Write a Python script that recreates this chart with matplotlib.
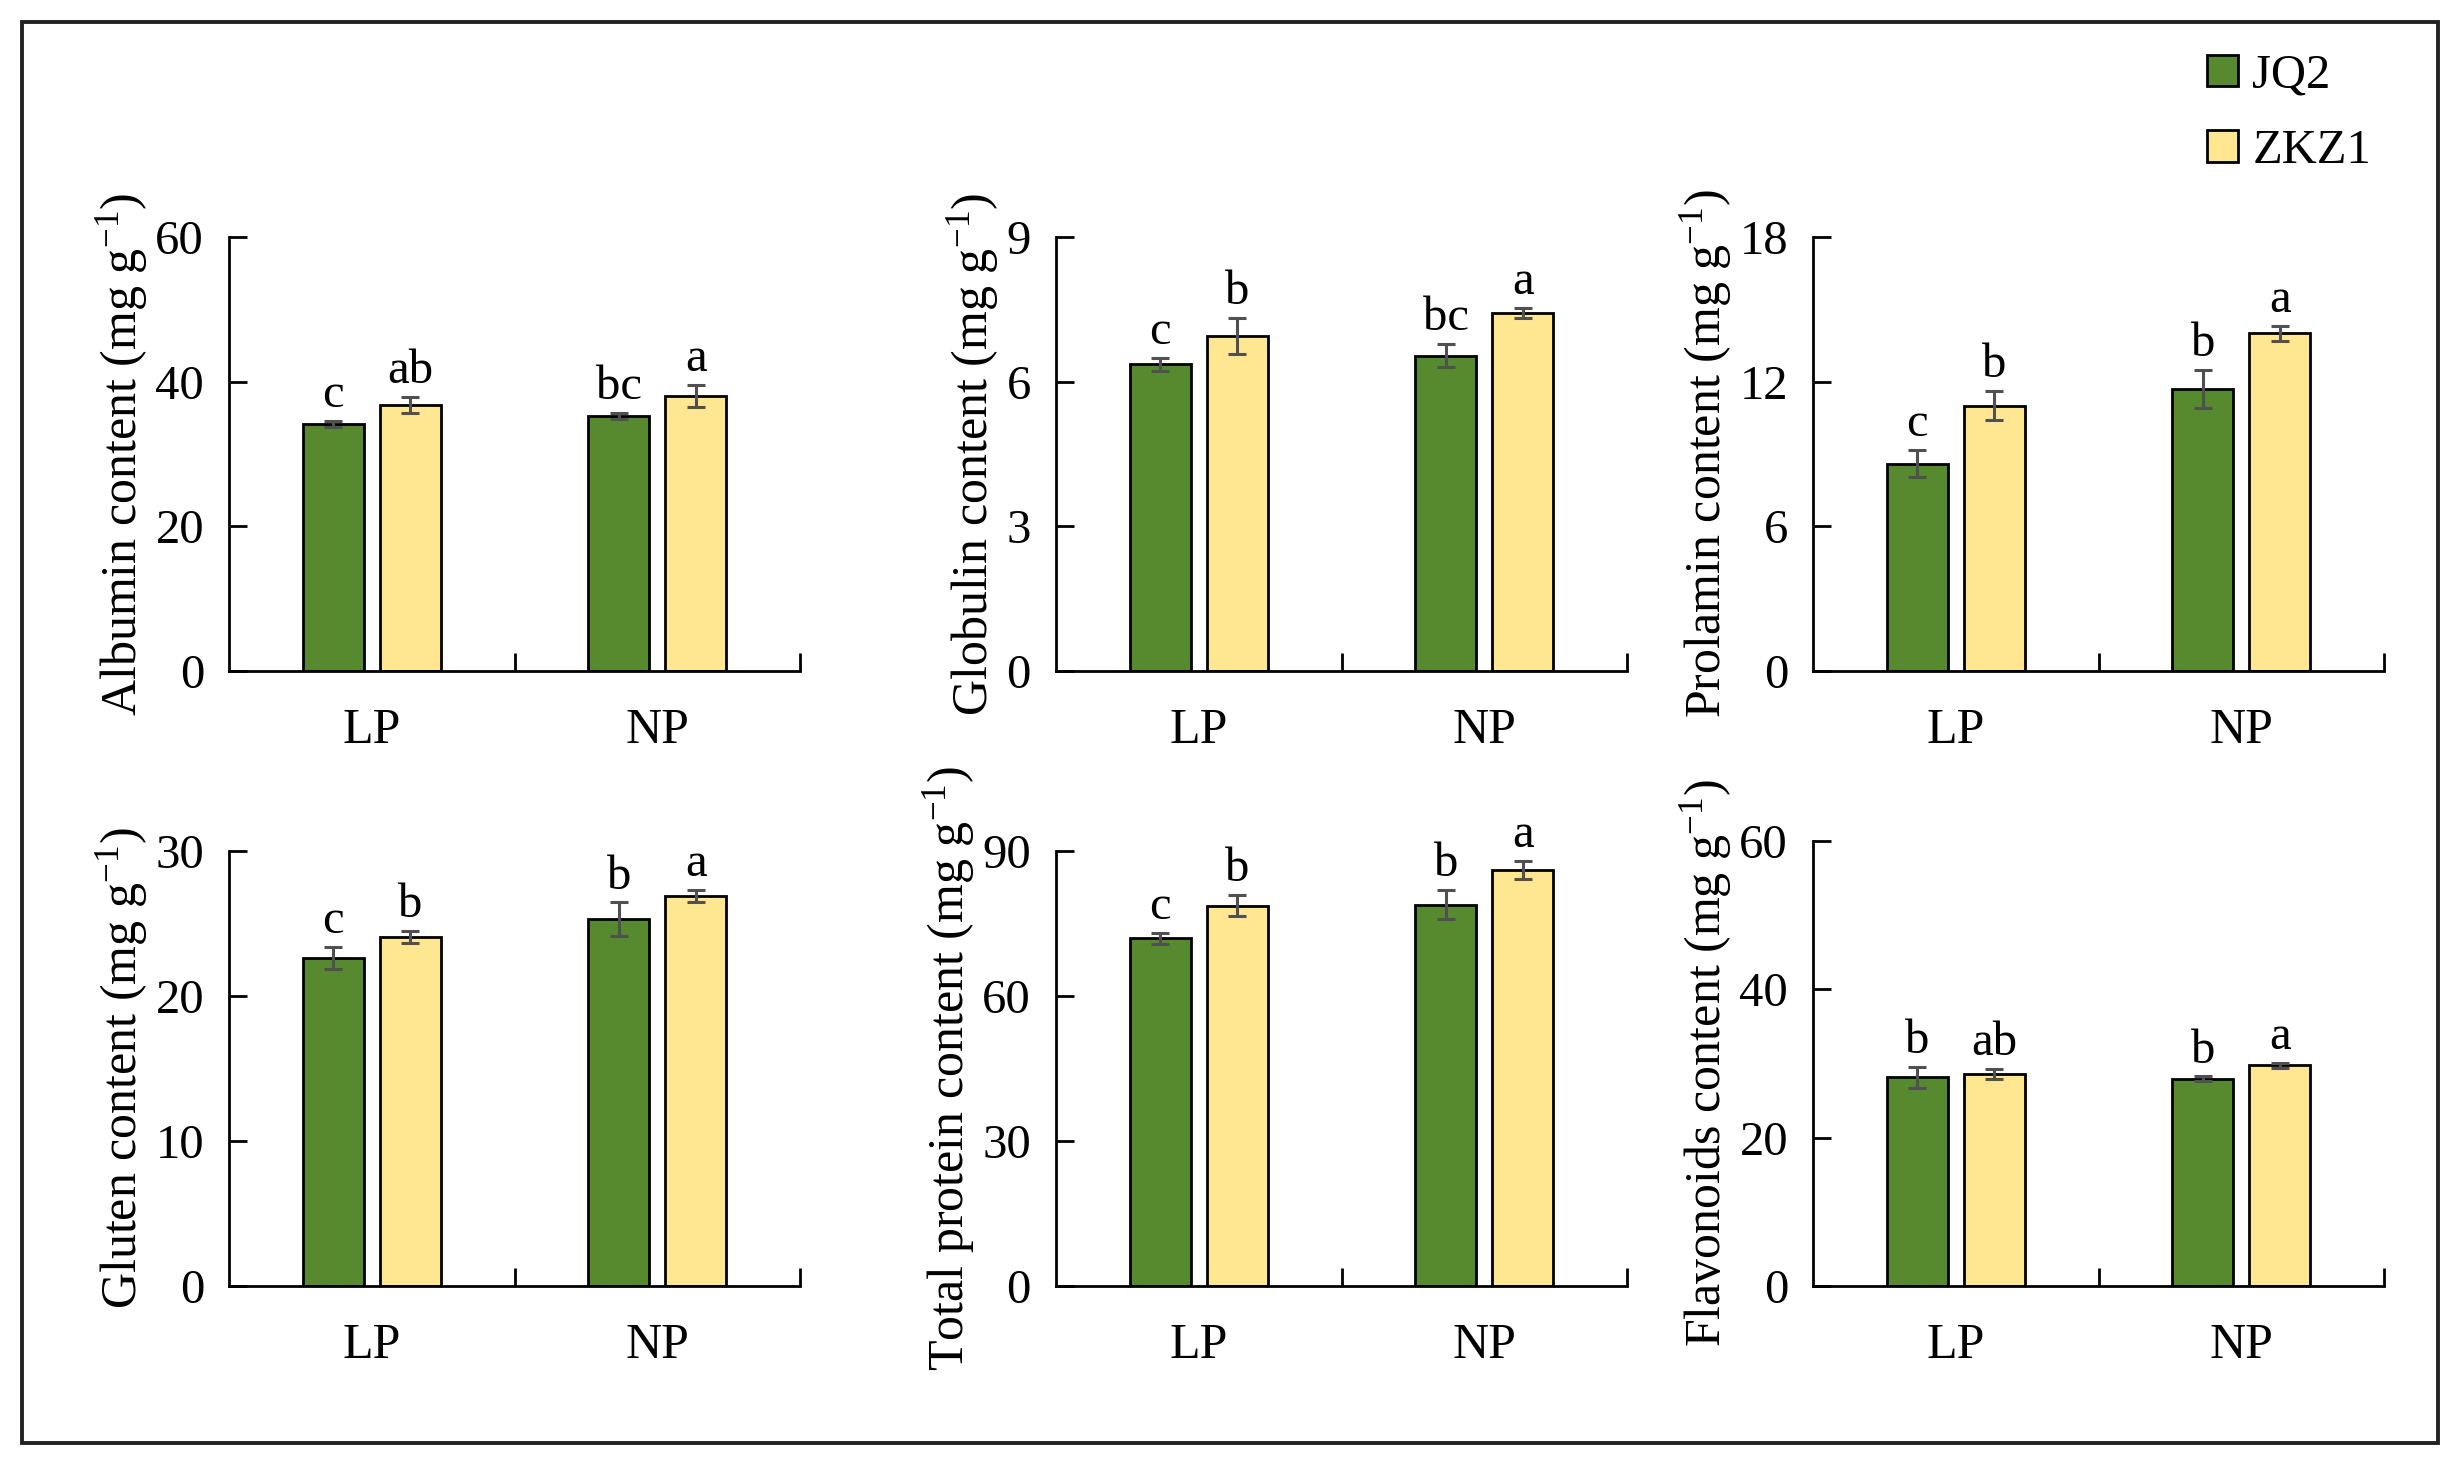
import matplotlib
matplotlib.use("Agg")
import matplotlib.pyplot as plt
from matplotlib.patches import Rectangle, Patch

plt.rcParams["font.family"] = ["Liberation Serif", "DejaVu Serif"]
plt.rcParams["mathtext.fontset"] = "custom"
plt.rcParams["mathtext.rm"] = "Liberation Serif"
plt.rcParams["mathtext.default"] = "rm"

treatments = ["LP", "NP"]
cultivars = ["JQ2", "ZKZ1"]
colors = ["#578a2f", "#ffe792"]

# panel data: [JQ2 LP, JQ2 NP], [ZKZ1 LP, ZKZ1 NP]
albumin_jq2 = [34.2, 35.3]
albumin_zkz1 = [36.8, 38.0]
albumin_err_jq2 = [0.4, 0.4]
albumin_err_zkz1 = [1.1, 1.5]
albumin_let_jq2 = ["c", "bc"]
albumin_let_zkz1 = ["ab", "a"]

globulin_jq2 = [6.36, 6.54]
globulin_zkz1 = [6.95, 7.42]
globulin_err_jq2 = [0.13, 0.24]
globulin_err_zkz1 = [0.38, 0.10]
globulin_let_jq2 = ["c", "bc"]
globulin_let_zkz1 = ["b", "a"]

prolamin_jq2 = [8.6, 11.7]
prolamin_zkz1 = [11.0, 14.0]
prolamin_err_jq2 = [0.56, 0.78]
prolamin_err_zkz1 = [0.6, 0.3]
prolamin_let_jq2 = ["c", "b"]
prolamin_let_zkz1 = ["b", "a"]

gluten_jq2 = [22.65, 25.3]
gluten_zkz1 = [24.05, 26.9]
gluten_err_jq2 = [0.76, 1.15]
gluten_err_zkz1 = [0.41, 0.44]
gluten_let_jq2 = ["c", "b"]
gluten_let_zkz1 = ["b", "a"]

total_jq2 = [71.9, 78.9]
total_zkz1 = [78.7, 86.1]
total_err_jq2 = [1.1, 3.0]
total_err_zkz1 = [2.2, 1.85]
total_let_jq2 = ["c", "b"]
total_let_zkz1 = ["b", "a"]

flav_jq2 = [28.15, 27.95]
flav_zkz1 = [28.6, 29.75]
flav_err_jq2 = [1.4, 0.3]
flav_err_zkz1 = [0.68, 0.37]
flav_let_jq2 = ["b", "b"]
flav_let_zkz1 = ["ab", "a"]

panels = [
    ("Albumin content (mg g$^{-1}$)", 60, 20, albumin_jq2, albumin_zkz1, albumin_err_jq2, albumin_err_zkz1, albumin_let_jq2, albumin_let_zkz1),
    ("Globulin content (mg g$^{-1}$)", 9, 3, globulin_jq2, globulin_zkz1, globulin_err_jq2, globulin_err_zkz1, globulin_let_jq2, globulin_let_zkz1),
    ("Prolamin content (mg g$^{-1}$)", 18, 6, prolamin_jq2, prolamin_zkz1, prolamin_err_jq2, prolamin_err_zkz1, prolamin_let_jq2, prolamin_let_zkz1),
    ("Gluten content (mg g$^{-1}$)", 30, 10, gluten_jq2, gluten_zkz1, gluten_err_jq2, gluten_err_zkz1, gluten_let_jq2, gluten_let_zkz1),
    ("Total protein content (mg g$^{-1}$)", 90, 30, total_jq2, total_zkz1, total_err_jq2, total_err_zkz1, total_let_jq2, total_let_zkz1),
    ("Flavonoids content (mg g$^{-1}$)", 60, 20, flav_jq2, flav_zkz1, flav_err_jq2, flav_err_zkz1, flav_let_jq2, flav_let_zkz1),
]

W, H = 2462, 1466
fig = plt.figure(figsize=(W / 200, H / 200), dpi=200)

lefts = [229, 1056, 1813]
width = 571
# (top px, bottom px) for each panel
rows = [(237, 671), (237, 671), (237, 671), (851, 1286), (851, 1286), (841, 1286)]

bw = 0.215
off = 0.135

for i, (label, ymax, step, jq, zk, ejq, ezk, ljq, lzk) in enumerate(panels):
    top, bot = rows[i]
    left = lefts[i % 3]
    ax = fig.add_axes([left / W, 1 - bot / H, width / W, (bot - top) / H])
    x = [0.5, 1.5]
    xj = [v - off for v in x]
    xz = [v + off for v in x]
    ekw = dict(ecolor="#505050", elinewidth=1.1, capsize=3.2, capthick=1.1)
    ax.bar(xj, jq, bw, color=colors[0], edgecolor="black", linewidth=1.0,
           yerr=ejq, error_kw=ekw, zorder=2)
    ax.bar(xz, zk, bw, color=colors[1], edgecolor="black", linewidth=1.0,
           yerr=ezk, error_kw=ekw, zorder=2)
    for xs, vals, errs, lets in [(xj, jq, ejq, ljq), (xz, zk, ezk, lzk)]:
        for xv, v, e, t in zip(xs, vals, errs, lets):
            ax.annotate(t, (xv, v + e), xytext=(0, 5), textcoords="offset points",
                        ha="center", va="baseline", fontsize=17.5)
    ax.set_xlim(0, 2)
    ax.set_ylim(0, ymax)
    ax.set_yticks(range(0, ymax + 1, step))
    ax.set_xticks([1, 2])
    ax.set_xticklabels([])
    ax.set_xticks(x, minor=True)
    ax.set_xticklabels(treatments, minor=True)
    ax.tick_params(axis="x", which="major", direction="in", length=6.5, width=1.0)
    ax.tick_params(axis="x", which="minor", length=0, pad=13, labelsize=18)
    ax.tick_params(axis="y", direction="in", length=6.5, width=1.0, pad=9, labelsize=17.5)
    for s in ["top", "right"]:
        ax.spines[s].set_visible(False)
    for s in ["left", "bottom"]:
        ax.spines[s].set_linewidth(1.0)
    ax.set_ylabel(label, fontsize=18, labelpad=2)

handles = [Patch(facecolor=colors[0], edgecolor="black", linewidth=1.0),
           Patch(facecolor=colors[1], edgecolor="black", linewidth=1.0)]
fig.legend(handles, cultivars, loc="upper left", bbox_to_anchor=(2188 / W, 1 - 34 / H),
           frameon=False, fontsize=17.5, handlelength=0.62, handleheight=0.62,
           handletextpad=0.3, labelspacing=0.65, borderaxespad=0)

fig.patches.append(Rectangle((22 / W, 1 - 1443 / H), (2438 - 22) / W, (1443 - 22) / H,
                             transform=fig.transFigure, fill=False,
                             edgecolor="#222222", linewidth=1.4))

fig.savefig("out.png", dpi=200)
